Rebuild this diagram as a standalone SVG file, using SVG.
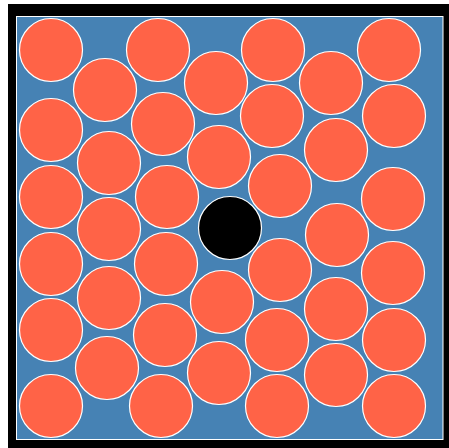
<svg xmlns="http://www.w3.org/2000/svg" width="449" height="448" viewBox="0 0 449 448">
<style>
.p{fill:#FF6347;stroke:#FFFFFF;stroke-width:1.2}
.b{fill:#000000;stroke:#FFFFFF;stroke-width:1.2}
</style>
<rect width="449" height="448" fill="#FFFFFF"/>
<rect x="8" y="4" width="441" height="444" fill="#000000"/>
<rect x="16.5" y="16.5" width="426.5" height="423" fill="#4682B4" stroke="#FFFFFF" stroke-width="1"/>
<g id="particles">
<circle class="p" cx="51" cy="50" r="31.5"/>
<circle class="p" cx="158" cy="50" r="31.5"/>
<circle class="p" cx="273" cy="50" r="31.5"/>
<circle class="p" cx="389" cy="50" r="31.5"/>
<circle class="p" cx="105" cy="90" r="31.5"/>
<circle class="p" cx="216" cy="83" r="31.5"/>
<circle class="p" cx="331" cy="83" r="31.5"/>
<circle class="p" cx="51" cy="130" r="31.5"/>
<circle class="p" cx="163" cy="124" r="31.5"/>
<circle class="p" cx="272" cy="116" r="31.5"/>
<circle class="p" cx="394" cy="116" r="31.5"/>
<circle class="p" cx="109" cy="163" r="31.5"/>
<circle class="p" cx="219" cy="157" r="31.5"/>
<circle class="p" cx="336" cy="150" r="31.5"/>
<circle class="p" cx="51" cy="197" r="31.5"/>
<circle class="p" cx="167" cy="197" r="31.5"/>
<circle class="p" cx="280" cy="186" r="31.5"/>
<circle class="p" cx="393" cy="199" r="31.5"/>
<circle class="p" cx="109" cy="229" r="31.5"/>
<circle class="p" cx="337" cy="235" r="31.5"/>
<circle class="p" cx="51" cy="264" r="31.5"/>
<circle class="p" cx="166" cy="264" r="31.5"/>
<circle class="p" cx="280" cy="270" r="31.5"/>
<circle class="p" cx="393" cy="273" r="31.5"/>
<circle class="p" cx="109" cy="298" r="31.5"/>
<circle class="p" cx="222" cy="302" r="31.5"/>
<circle class="p" cx="336" cy="309" r="31.5"/>
<circle class="p" cx="51" cy="330" r="31.5"/>
<circle class="p" cx="165" cy="335" r="31.5"/>
<circle class="p" cx="277" cy="340" r="31.5"/>
<circle class="p" cx="394" cy="340" r="31.5"/>
<circle class="p" cx="107" cy="368" r="31.5"/>
<circle class="p" cx="219" cy="373" r="31.5"/>
<circle class="p" cx="336" cy="375" r="31.5"/>
<circle class="p" cx="51" cy="406" r="31.5"/>
<circle class="p" cx="161" cy="406" r="31.5"/>
<circle class="p" cx="277" cy="406" r="31.5"/>
<circle class="p" cx="394" cy="406" r="31.5"/>
</g>
<g id="intruder">
<circle class="b" cx="230" cy="228" r="31.5"/>
</g>
</svg>
